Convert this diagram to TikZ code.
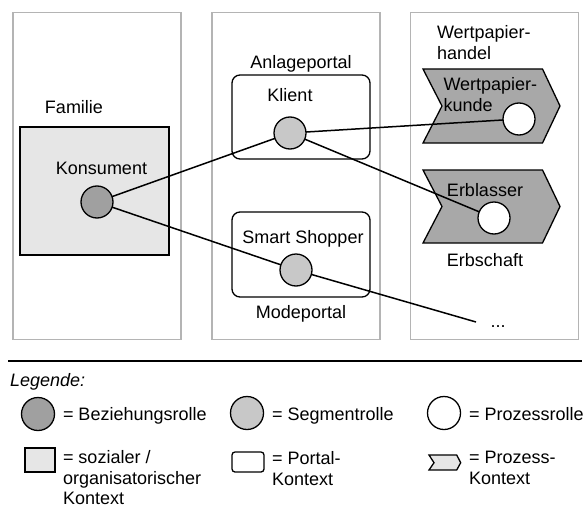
\documentclass[tikz,border=0pt]{standalone}
\usepackage{fontspec}
\setmainfont{Liberation Sans}
\definecolor{panelgray}{HTML}{B4B4B4}
\definecolor{socialfill}{HTML}{E6E6E6}
\definecolor{bezfill}{HTML}{A0A0A0}
\definecolor{segfill}{HTML}{C8C8C8}
\definecolor{chevfill}{HTML}{A8A8A8}
\begin{document}
\begin{tikzpicture}[x=1pt,y=-1pt,
  every node/.style={font=\fontsize{18}{21}\selectfont, inner sep=0pt, outer sep=0pt},
  panel/.style={draw=panelgray, line width=1.4pt, minimum width=168pt, minimum height=327pt},
  social/.style={draw=black, fill=socialfill, line width=1.3pt},
  portal/.style={draw=black, line width=1.3pt, rounded corners=8pt},
  chev/.style={draw=black, fill=chevfill, line width=1.3pt},
  rolebase/.style={circle, draw=black, line width=1.3pt, minimum size=32pt},
  bez/.style={rolebase, fill=bezfill},
  seg/.style={rolebase, fill=segfill},
  proz/.style={rolebase, fill=white},
  lbl/.style={anchor=base},
  multi/.style={anchor=north west, align=left},
  conn/.style={line width=1.5pt}
]
\useasboundingbox (0,0) rectangle (588,508);

% panels
\node[panel] (pfam) at (97,176) {};
\node[panel] (pport) at (296,176) {};
\node[panel] (pproz) at (494.5,176) {};

% family context
\node[lbl] (tfam) at (74,113.5) {Familie};
\node[social, minimum width=149pt, minimum height=128pt] (fambox) at (94.5,191) {};
\node[lbl] (tkons) at (101.5,174.5) {Konsument};
\node[bez] (kons) at (97,202) {};

% portal contexts
\node[lbl] (tanl) at (301,68.5) {Anlageportal};
\node[portal, minimum width=138pt, minimum height=84pt] (anlbox) at (301,117) {};
\node[lbl] (tkli) at (290,101.5) {Klient};
\node[seg] (klient) at (290,133) {};

\node[portal, minimum width=138pt, minimum height=85pt] (modbox) at (301,254.5) {};
\node[lbl] (tsmart) at (303,243.5) {Smart Shopper};
\node[seg] (smart) at (296,270) {};
\node[lbl] (tmode) at (301,318.5) {Modeportal};

% process contexts
\node[multi] (twph) at (437,25.5) {Wertpapier-\\handel};
\draw[chev] (423,69) -- (542.5,69) -- (560,106) -- (542.5,143) -- (423,143) -- (442,106) -- cycle;
\node[multi] (twpk) at (443.5,77.5) {Wertpapier-\\kunde};
\node[proz] (wk) at (519,119) {};

\draw[chev] (423,170) -- (542.5,170) -- (560,206.5) -- (542.5,243) -- (423,243) -- (442,206.5) -- cycle;
\node[lbl] (terbl) at (485,196.5) {Erblasser};
\node[proz] (erb) at (494,218) {};
\node[lbl] (terbs) at (485,266.5) {Erbschaft};

\node[lbl] (dots) at (498,327) {...};
\coordinate (dotsend) at (476,322);

% connectors
\draw[conn] (kons) -- (klient);
\draw[conn] (kons) -- (smart);
\draw[conn] (klient) -- (wk);
\draw[conn] (klient) -- (erb);
\draw[conn] (smart) -- (dotsend);

% separator
\coordinate (sepL) at (8,361);
\coordinate (sepR) at (582,361);
\draw[line width=2pt] (sepL) -- (sepR);

% legend
\node[anchor=base west] (tleg) at (10,386.5) {\itshape Legende:};

\node[bez, minimum size=33pt] (lbez) at (38,414) {};
\node[anchor=base west] (tlbez) at (63,420.5) {= Beziehungsrolle};
\node[seg, minimum size=33pt] (lseg) at (247,413) {};
\node[anchor=base west] (tlseg) at (272,420.5) {= Segmentrolle};
\node[proz, minimum size=33pt] (lproz) at (444,413) {};
\node[anchor=base west] (tlproz) at (469,420.5) {= Prozessrolle};

\node[social, minimum width=30pt, minimum height=24pt] (lsoc) at (40,460) {};
\node[multi, font=\fontsize{18}{20.5}\selectfont] (tlsoc) at (63,450.5) {= sozialer /\\organisatorischer\\Kontext};
\node[portal, rounded corners=3pt, minimum width=32pt, minimum height=20pt] (lport) at (248,462) {};
\node[multi, font=\fontsize{18}{20.5}\selectfont] (tlport) at (272,451.5) {= Portal-\\Kontext};
\draw[social] (429,455) -- (456.7,455) -- (460.7,462.7) -- (456.7,470) -- (429,470) -- (434,462.7) -- cycle;
\node[multi, font=\fontsize{18}{20.5}\selectfont] (tlproc) at (469,451.5) {= Prozess-\\Kontext};
\end{tikzpicture}
\end{document}
